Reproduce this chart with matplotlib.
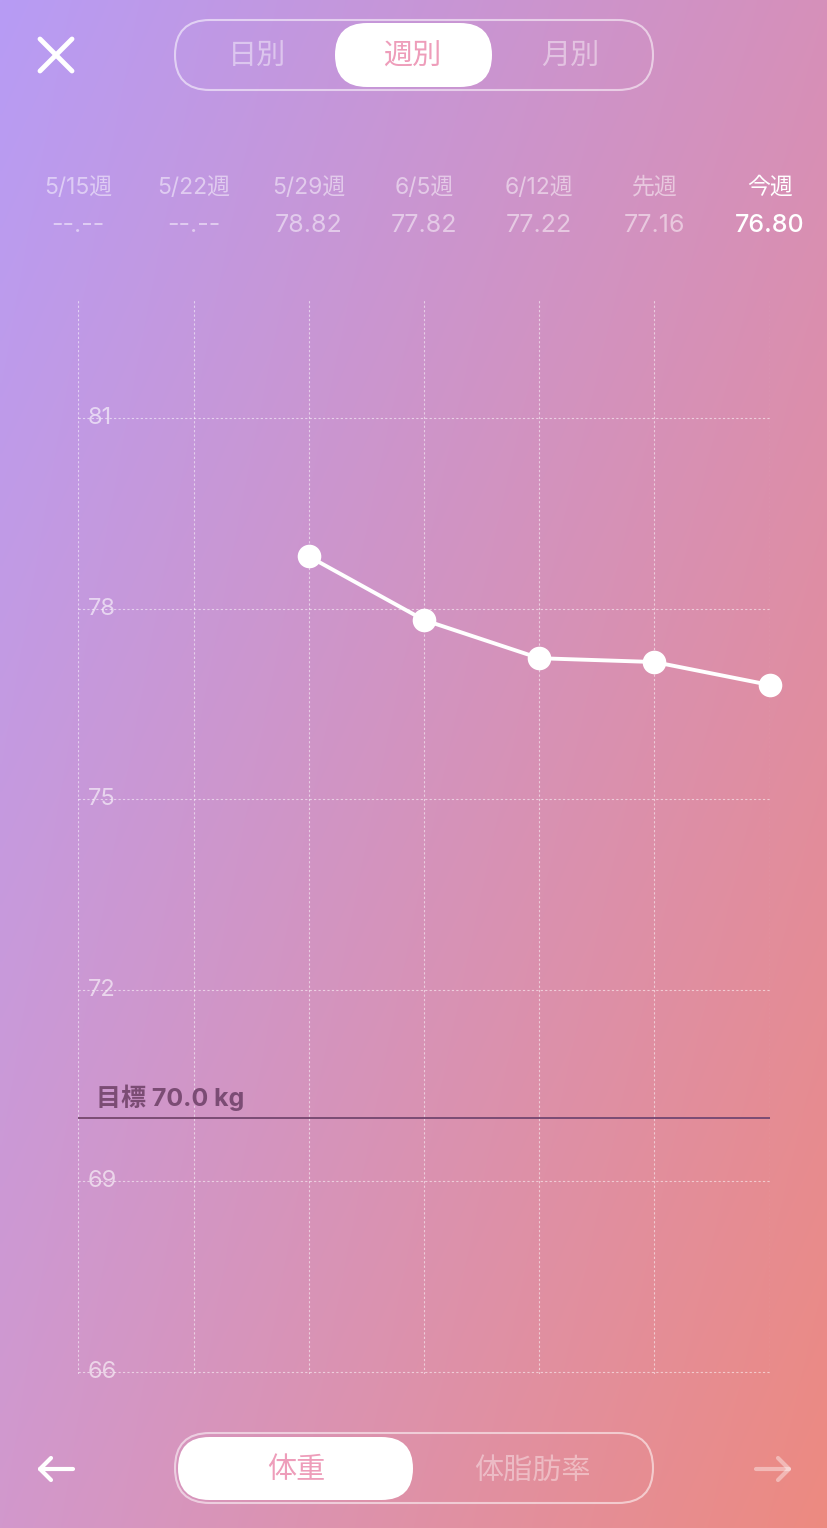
import numpy as np
import matplotlib
matplotlib.use("Agg")
import matplotlib.pyplot as plt
from matplotlib.patches import FancyBboxPatch

plt.rcParams['font.family'] = ['Inter', 'Noto Sans CJK JP', 'DejaVu Sans']

# data
weeks = ['5/15週', '5/22週', '5/29週', '6/5週', '6/12週', '先週', '今週']
weights = [np.nan, np.nan, 78.82, 77.82, 77.22, 77.16, 76.80]
y_ticks = [66, 69, 72, 75, 78, 81]
goal = 70.0
top_tabs = ['日別', '週別', '月別']
bottom_tabs = ['体重', '体脂肪率']

W, H = 828, 1528
fig = plt.figure(figsize=(W / 100, H / 100), dpi=100)

# background gradient (bilinear between corner colours)
bg = fig.add_axes([0, 0, 1, 1], zorder=0)
tl = np.array([183, 156, 245]) / 255
tr = np.array([214, 144, 186]) / 255
bl = np.array([210, 152, 204]) / 255
br = np.array([237, 138, 128]) / 255
u = np.linspace(0, 1, 200)[None, :, None]
v = np.linspace(0, 1, 370)[:, None, None]
grad = (1 - v) * ((1 - u) * tl + u * tr) + v * ((1 - u) * bl + u * br)
bg.imshow(np.clip(grad, 0, 1), aspect='auto', extent=[0, 1, 0, 1], interpolation='bilinear')
bg.axis('off')

# main chart: 78..770 px wide, 300..1374 px tall
ax = fig.add_axes([78 / W, (H - 1374) / H, 692 / W, 1074 / H], zorder=1)
ax.set_facecolor('none')
ax.set_xlim(-0.003, 6.003)
ax.set_ylim(65.97, 82.85)
ax.set_xticks(range(len(weeks)))
ax.set_yticks(y_ticks)
ax.tick_params(length=0, labelbottom=False, labelleft=False)
for s in ax.spines.values():
    s.set_visible(False)
ax.grid(True, color='white', alpha=0.55, lw=0.8, linestyle=(0, (2, 2)))

x = np.arange(len(weeks))
ax.plot(x, weights, color='white', lw=2.8, marker='o', markersize=17,
        markeredgewidth=0, zorder=5, clip_on=False)

for t in y_ticks:
    ax.text(0.0145, t, str(t), transform=ax.get_yaxis_transform(), fontsize=17,
            color='white', alpha=0.6, va='center', ha='left')

ax.axhline(goal, color='#7B4C74', lw=1.4, zorder=3)
ax.text(0.026, goal + 0.1, f'目標 {goal:.1f} kg', transform=ax.get_yaxis_transform(),
        fontsize=18, fontweight='bold', color='#7B4C74', va='bottom', ha='left')

# week header labels and values
for i, (wk, val) in enumerate(zip(weeks, weights)):
    last = i == len(weeks) - 1
    a = 1.0 if last else 0.5
    ax.text(i, 1.1045, wk, transform=ax.get_xaxis_transform(), ha='center', va='center',
            fontsize=16.5, color='white', alpha=a, clip_on=False)
    txt = '--.--' if np.isnan(val) else f'{val:.2f}'
    ax.text(i, 1.0695, txt, transform=ax.get_xaxis_transform(), ha='center', va='center',
            fontsize=18, color='white', alpha=a, clip_on=False,
            fontweight='medium' if last else 'normal')

# overlay in pixel coords for controls
ov = fig.add_axes([0, 0, 1, 1], zorder=2)
ov.set_xlim(0, W)
ov.set_ylim(H, 0)
ov.axis('off')
ov.set_facecolor('none')


def pill(x0, y0, x1, y1, **kw):
    r = (y1 - y0) / 2
    ov.add_patch(FancyBboxPatch((x0, y0), x1 - x0, y1 - y0,
                                boxstyle=f'round,pad=0,rounding_size={r}', **kw))


pink = '#EE9DBA'

# top segmented control
pill(175, 20, 653, 90, facecolor='none', edgecolor='white', alpha=0.55, lw=1.5)
pill(335, 23, 492, 87, facecolor='white', edgecolor='none')
for lbl, cx, sel in zip(top_tabs, [257, 412, 570], [False, True, False]):
    ov.text(cx, 57, lbl, ha='center', va='center', fontsize=21,
            color=pink if sel else 'white', alpha=1 if sel else 0.45)

# close icon
ov.plot([40, 72], [39, 71], color='white', lw=3.5, solid_capstyle='round')
ov.plot([40, 72], [71, 39], color='white', lw=3.5, solid_capstyle='round')

# bottom segmented control
pill(175, 1433, 653, 1503, facecolor='none', edgecolor='white', alpha=0.55, lw=1.5)
pill(178, 1437, 413, 1500, facecolor='white', edgecolor='none')
for lbl, cx, sel in zip(bottom_tabs, [296, 532], [True, False]):
    ov.text(cx, 1471, lbl, ha='center', va='center', fontsize=21,
            color=pink if sel else 'white', alpha=1 if sel else 0.4)

# arrows
for xs, head, a in [((40, 73), 40, 1.0), ((756, 789), 789, 0.4)]:
    ov.plot(xs, [1469, 1469], color='white', lw=3, alpha=a, solid_capstyle='round')
    d = 11 if head == 40 else -11
    ov.plot([head + d, head, head + d], [1458, 1469, 1480], color='white', lw=3,
            alpha=a, solid_capstyle='round', solid_joinstyle='round')

fig.savefig('out.png', dpi=100)
plt.close(fig)
